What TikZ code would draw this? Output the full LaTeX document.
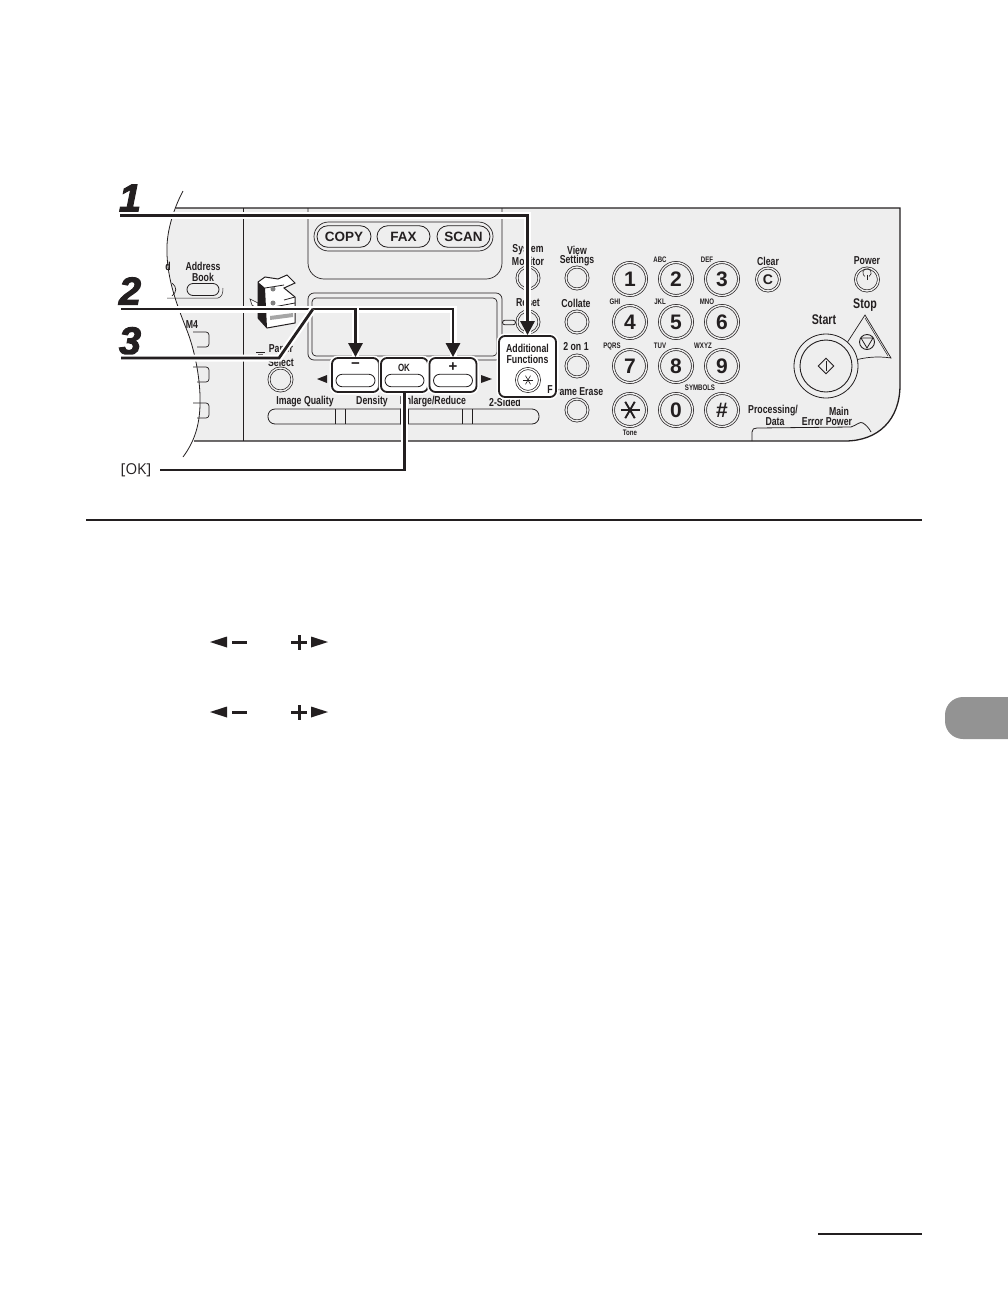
\documentclass[tikz,border=0pt]{standalone}
\usepackage{fontspec}
\usepackage{tikz}
\usetikzlibrary{
  arrows.meta,
  shapes.misc,
  shapes.geometric
}
\newfontfamily\panelfont[FakeStretch=0.76]{Liberation Sans}
\newfontfamily\stepfont[FakeStretch=1.02,BoldItalicFeatures={FakeBold=2.5}]{Liberation Sans}
\newfontfamily\keyfont{Liberation Sans}
\newfontfamily\okfont{Open Sans}
\newfontfamily\symfont{DejaVu Sans}
\definecolor{panelgray}{HTML}{EEEEEE}
\definecolor{inkblack}{HTML}{231F20}
\definecolor{tabgray}{HTML}{939393}
\tikzset{
  panellabel/.style={font=\panelfont\bfseries\fontsize{11.5}{12}\selectfont,inner sep=0,text=inkblack},
  ticklabel/.style={font=\panelfont\bfseries\fontsize{8}{9}\selectfont,inner sep=0,text=inkblack},
  steplabel/.style={font=\stepfont\bfseries\itshape\fontsize{39}{40}\selectfont,inner sep=0,text=inkblack},
  keyring/.style={circle,draw=inkblack,line width=0.7pt,double=panelgray,double distance=1.4pt,inner sep=0,font=\keyfont\bfseries\fontsize{21}{22}\selectfont,text=inkblack},
  softkey/.style={rounded rectangle,draw=inkblack,line width=0.8pt,fill=white,inner sep=0},
  hardkey/.style={rectangle,rounded corners=6pt,draw=inkblack,line width=1.8pt,fill=white,inner sep=0,preaction={draw=white,line width=5pt}},
  callout/.style={draw=inkblack,line width=2.8pt,preaction={draw=white,line width=7pt,-}},
  thin panel/.style={draw=inkblack,line width=0.7pt},
  pointer/.style={-{Triangle[length=14pt,width=14pt]}}
}
\begin{document}
\begin{tikzpicture}[x=1pt,y=-1pt]
  \useasboundingbox (0,0) rectangle (1008,1296);
  % panel body
  \fill[panelgray] (175.5,208) -- (900,208) -- (900,385) .. controls (900,420) and (878,441) .. (845,441) -- (194,441) .. controls (199,425) and (201,412) .. (200,395) .. controls (199,370) and (193,345) .. (186,328) .. controls (175,300) and (166,275) .. (167,245) .. controls (168,230) and (171,220) .. (175.5,208) -- cycle;
  \draw[inkblack,line width=1.3pt] (175.5,208) -- (900,208) -- (900,385) .. controls (900,420) and (878,441) .. (845,441) -- (194,441);
  \draw[inkblack,line width=0.8pt] (183,191) .. controls (176,204) and (168,225) .. (167,245) .. controls (166,275) and (175,300) .. (186,328) .. controls (193,345) and (199,370) .. (200,395) .. controls (201,425) and (194,442) .. (183,457);
  \draw[inkblack,line width=1pt] (243,208) -- (243,441);
  % copy fax scan box
  \draw[thin panel,rounded corners=16pt] (308,208) -- (308,279) -- (502,279) -- (502,208);
  \node[rounded rectangle,thin panel,minimum width=179pt,minimum height=29pt,inner sep=0] (modebox) at (403.5,236.5) {};
  \foreach \name/\lbl/\x/\w in {copy/COPY/344/54,fax/FAX/403.5/53,scan/SCAN/463.5/53}
    \node[rounded rectangle,draw=inkblack,line width=0.8pt,minimum width=\w pt,minimum height=21.5pt,inner sep=0,font=\keyfont\bfseries\fontsize{13.5}{14}\selectfont,text=inkblack] (\name) at (\x,236.5) {\lbl};
  % display
  \draw[thin panel,rounded corners=6pt] (308,360) rectangle (502,293);
  \draw[thin panel,rounded corners=4pt] (312,356) rectangle (497,298);
  % left part of panel
  \node[panellabel] (lbld) at (168,266) {d};
  \node[panellabel] (lbladdress) at (203,266) {Address};
  \node[panellabel] (lblbook) at (203,277) {Book};
  \node[softkey,minimum width=32pt,minimum height=12pt,fill=panelgray] (bookkey) at (203,289.5) {};
  \draw[inkblack,line width=0.7pt] (172,283) .. controls (177,287) and (177,292) .. (172,296);
  \draw[inkblack,line width=0.5pt] (167,298) -- (218,298) .. controls (222,297) and (223,293) .. (223,288);
  \node[panellabel] (lblmfour) at (192,325) {M4};
  \foreach \y in {332,367,403}
    \draw[thin panel,rounded corners=3pt] (193,\y) -- (209,\y) -- (209,\y+15) -- (197,\y+15);
  % machine icon
  \fill[white,draw=inkblack,line width=0.6pt] (250,299) -- (258,303) -- (258,309) -- (252,305) -- cycle;
  \fill[white,draw=inkblack,line width=1pt] (258,282) -- (265,277) -- (278,279) -- (287,275) -- (295,283) -- (284,288) -- (295,297) -- (295,323) -- (267,328) -- (258,318) -- cycle;
  \fill[inkblack] (258,282) -- (265,288) -- (267,328) -- (258,318) -- cycle;
  \draw[inkblack,line width=0.8pt] (265,288) -- (284,285) (284,300) -- (295,297) (268,308) -- (295,303);
  \fill[gray] (273,289) circle (2.5pt) (273,303) circle (2.5pt);
  \fill[gray!70] (270,320) -- (293,317) -- (293,313) -- (270,316) -- cycle;
  % paper select
  \draw[inkblack,line width=0.6pt] (256,352) -- (265,352) (258,354) -- (263,354) (260.5,354) -- (260.5,356);
  \node[panellabel] (lblpaper) at (281,350) {Paper};
  \node[panellabel] (lblselect) at (281,362) {Select};
  \node[keyring,minimum size=23pt] (paperkey) at (280.5,379.5) {};
  % bar below the buttons
  \draw[thin panel,line width=0.8pt,rounded corners=7pt] (405,409) -- (268,409) -- (268,424) -- (405,424);
  \draw[thin panel,line width=0.8pt,rounded corners=7pt] (400,409) -- (539,409) -- (539,424) -- (400,424);
  \foreach \x in {335,345,400,408,462,472}
    \draw[thin panel] (\x,409) -- (\x,424);
  \node[panellabel] (lblquality) at (305,402) {Image Quality};
  \node[panellabel] (lbldensity) at (372,402) {Density};
  \node[panellabel] (lblenlarge) at (433,402) {Enlarge/Reduce};
  \node[panellabel] (lblsided) at (505,402) {2-Sided};
  % small function keys
  \foreach \name/\x/\y in {monitorkey/528/278,resetkey/528/322,viewkey/577/278,collatekey/577/322,twokey/577/366,framekey/577/410}
    \node[keyring,minimum size=22pt] (\name) at (\x,\y) {};
  \node[softkey,minimum width=13pt,minimum height=4.5pt,fill=panelgray] (resetlamp) at (509,322.5) {};
  \node[panellabel,align=center] (lblsystem) at (528,250) {System};
  \node[panellabel] (lblmonitor) at (528,261) {Monitor};
  \node[panellabel] (lblview) at (577,250) {View};
  \node[panellabel] (lblsettings) at (577,261) {Settings};
  \node[panellabel] (lblreset) at (528,303) {Reset};
  \node[panellabel] (lblcollate) at (576,303) {Collate};
  \node[panellabel] (lbltwo) at (576,347) {2 on 1};
  \node[panellabel] (lblframe) at (577,392) {Frame Erase};
  % number keys
  \foreach \num/\x/\y in {1/630/279,2/676/279,3/722/279,4/630/322,5/676/322,6/722/322,7/630/366,8/676/366,9/722/366,0/676/410}
    \node[keyring,minimum size=33pt] (key\num) at (\x,\y) {\num};
  \node[keyring,minimum size=33pt] (keyast) at (630,410) {};
  \foreach \a in {0,60,120}
    \draw[inkblack,line width=1.9pt] (630,410) ++(\a:9.5pt) -- ++(\a+180:19pt);
  \node[keyring,minimum size=33pt] (keyhash) at (722,410) {\#};
  \foreach \name/\lbl/\x/\y in {abc/ABC/660/260,def/DEF/707/260,ghi/GHI/615/302,jkl/JKL/660/302,mno/MNO/707/302,pqrs/PQRS/612/346,tuv/TUV/660/346,wxyz/WXYZ/703/346,symbols/SYMBOLS/700/388,tone/Tone/630/433}
    \node[ticklabel] (lbl\name) at (\x,\y) {\lbl};
  % clear and power
  \node[panellabel] (lblclear) at (768,261) {Clear};
  \node[keyring,minimum size=23pt,font=\keyfont\bfseries\fontsize{14}{15}\selectfont] (clearkey) at (768,279.5) {C};
  \node[panellabel] (lblpower) at (867,261) {Power};
  \node[keyring,minimum size=23pt] (powerkey) at (867,279.5) {};
  \draw[inkblack,line width=0.6pt] (867,274.5) -- (867,279.5);
  \draw[inkblack,line width=0.6pt] (869.1,276.4) arc[start angle=-60,end angle=240,radius=4.2pt];
  % start and stop
  \node[panellabel,font=\panelfont\bfseries\fontsize{14}{15}\selectfont] (lblstart) at (824,320) {Start};
  \node[panellabel,font=\panelfont\bfseries\fontsize{14}{15}\selectfont] (lblstop) at (865,305) {Stop};
  \draw[fill=panelgray,draw=inkblack,line width=0.7pt] (865,315) -- (891,358) .. controls (878,356) and (865,357) .. (852,361) .. controls (852,355) and (850,350) .. (845,346) -- cycle;
  \draw[inkblack,line width=0.5pt] (865,318) -- (888,356);
  \node[circle,draw=inkblack,line width=0.8pt,fill=panelgray,minimum size=64pt,inner sep=0] (startring) at (826,366) {};
  \node[circle,draw=inkblack,line width=0.9pt,minimum size=52pt,inner sep=0] (startkey) at (826,366) {};
  \node[diamond,draw=inkblack,line width=0.9pt,minimum size=16pt,inner sep=0] (startmark) at (826,366) {};
  \draw[inkblack,line width=0.9pt] (826,361) -- (826,371);
  \node[circle,draw=inkblack,line width=0.9pt,minimum size=15pt,inner sep=0] (stopring) at (867,342) {};
  \draw[inkblack,line width=0.8pt] (861,338) -- (873,338) -- (867,348) -- cycle;
  % indicators
  \node[panellabel] (lblprocessing) at (773,411) {Processing/};
  \node[panellabel] (lbldata) at (775,421.5) {Data};
  \node[panellabel] (lblmain) at (839,411) {Main};
  \node[panellabel] (lblerror) at (827,422) {Error Power};
  \draw[inkblack,line width=0.8pt] (752,441) -- (752,432) .. controls (752,429) and (754,428) .. (757,428) -- (851,427) .. controls (857,425) and (860,421) .. (863,423) .. controls (866,425) and (869,428) .. (871,432);
  % highlighted keys
  \fill[inkblack] (317,379) -- (327,375) -- (327,383) -- cycle;
  \fill[inkblack] (492,379) -- (481,375) -- (481,383) -- cycle;
  \node[hardkey,minimum width=47pt,minimum height=34pt] (minuskey) at (355.5,375) {};
  \node[hardkey,minimum width=47pt,minimum height=34pt] (okkey) at (404.5,375) {};
  \node[hardkey,minimum width=47pt,minimum height=34pt] (pluskey) at (453,375) {};
  \node[softkey,minimum width=39pt,minimum height=12.5pt] (minuspill) at (355.5,380.5) {};
  \node[softkey,minimum width=39pt,minimum height=12.5pt] (okpill) at (404.5,380.5) {};
  \node[softkey,minimum width=39pt,minimum height=12.5pt] (pluspill) at (453,380.5) {};
  \node[font=\keyfont\bfseries\fontsize{15}{16}\selectfont,inner sep=0,text=inkblack] (minusmark) at (355.5,366) {\textminus};
  \node[font=\panelfont\bfseries\fontsize{10.5}{11}\selectfont,inner sep=0,text=inkblack] (okmark) at (404,368) {OK};
  \node[font=\keyfont\bfseries\fontsize{15}{16}\selectfont,inner sep=0,text=inkblack] (plusmark) at (453,367) {+};
  \node[hardkey,minimum width=57pt,minimum height=61pt] (addfunc) at (527.5,366.5) {};
  \node[panellabel] (lbladditional) at (527.5,348) {Additional};
  \node[panellabel] (lblfunctions) at (527.5,359) {Functions};
  \node[keyring,minimum size=23pt,double=white] (addkey) at (528,380) {};
  \foreach \a in {0,60,120}
    \draw[inkblack,line width=0.6pt] (528,380) ++(\a:5pt) -- ++(\a+180:10pt);
  \node[panellabel] (lblfrag) at (550,390) {F};
  % callouts
  \node[steplabel] (stepone) at (130,198) {1};
  \node[steplabel] (steptwo) at (130,291) {2};
  \node[steplabel] (stepthree) at (130,341) {3};
  \node[font=\okfont\fontsize{15}{16}\selectfont,inner sep=0,text=inkblack] (oklabel) at (136,470) {[OK]};
  \coordinate (lineone) at (120,215.5);
  \coordinate (linetwo) at (121,309);
  \coordinate (linethree) at (121,358);
  \coordinate (linethreebend) at (279,358);
  \coordinate (linethreeend) at (313,309);
  \coordinate (lineok) at (160,470);
  \draw[callout,pointer] (lineone) -| (addfunc.north);
  \draw[callout,pointer] (linetwo) -| (pluskey.north);
  \draw[callout,pointer] (linetwo) -| (minuskey.north);
  \draw[callout] (linethree) -- (linethreebend) -- (linethreeend);
  \draw[callout] (lineok) -| (okkey.south);
  % page below the picture
  \coordinate (ruleleft) at (86,520);
  \coordinate (ruleright) at (922,520);
  \draw[inkblack,line width=1.5pt] (ruleleft) -- (ruleright);
  \foreach \y in {642,712} {
    \fill[inkblack] (210,\y) -- (227,\y-5.5) -- (227,\y+5.5) -- cycle;
    \fill[inkblack] (232,\y-1.5) rectangle (247,\y+1.5);
    \fill[inkblack] (291,\y-1.5) rectangle (307,\y+1.5);
    \fill[inkblack] (297.5,\y-7.5) rectangle (300.5,\y+7.5);
    \fill[inkblack] (328,\y) -- (311,\y-5.5) -- (311,\y+5.5) -- cycle;
  }
  \fill[tabgray,rounded corners=18pt] (1030,697) -- (945,697) -- (945,739) -- (1030,739) -- cycle;
  \coordinate (footleft) at (818,1234);
  \coordinate (footright) at (922,1234);
  \draw[inkblack,line width=1.3pt] (footleft) -- (footright);
\end{tikzpicture}
\end{document}
